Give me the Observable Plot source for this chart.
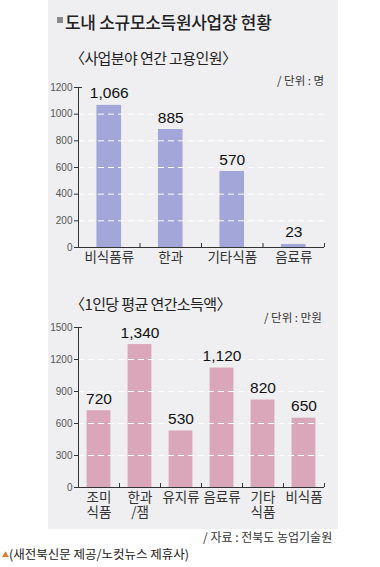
<!DOCTYPE html>
<html>
<head>
<meta charset="utf-8">
<script src="https://cdn.jsdelivr.net/npm/d3@7"></script>
<script src="https://cdn.jsdelivr.net/npm/@observablehq/plot@0.6"></script>
<style>
  body { margin: 0; background: #fff; font-family: "Noto Sans CJK KR", "Noto Sans", sans-serif; }
  #wrap { position: relative; width: 380px; height: 567px; overflow: hidden; }
  #panel { position: absolute; left: 48px; top: 0; width: 290px; height: 529px; background: #efeff1; }
  .t { position: absolute; white-space: nowrap; color: #222; }
  .chart { position: absolute; left: 0; }
</style>
</head>
<body>
<div id="wrap">
  <div id="panel"></div>
  <div class="t" style="left:57px;top:17px;width:6px;height:6px;background:#8a8a8a"></div>
  <div class="t" style="left:65px;top:12px;font-size:17px;line-height:19px;font-weight:500;letter-spacing:-0.3px">도내 소규모소득원사업장 현황</div>
  <div class="t" style="left:70px;top:49px;font-size:15px;line-height:18px;letter-spacing:-0.6px">〈사업분야 연간 고용인원〉</div>
  <div class="t" style="left:277px;top:73px;font-size:11.5px;line-height:14px;color:#333">/ 단위 : 명</div>
  <div id="c1" class="chart" style="top:70px"></div>
  <div class="t" style="left:70px;top:295px;font-size:15px;line-height:18px;letter-spacing:-0.6px">〈1인당 평균 연간소득액〉</div>
  <div class="t" style="left:264px;top:310px;font-size:11.5px;line-height:14px;color:#333">/ 단위 : 만원</div>
  <div id="c2" class="chart" style="top:310px"></div>
  <div class="t" style="left:203px;top:530px;font-size:12px;line-height:14px;color:#333">/ 자료 : 전북도 농업기술원</div>
  <div class="t" style="left:2px;top:546px;font-size:12.5px;line-height:15px;color:#222"><span style="color:#e07a30;font-size:7px;vertical-align:2px">▲</span>(새전북신문 제공/노컷뉴스 제휴사)</div>
</div>
<script>
// Chart 1: 사업분야 연간 고용인원 (단위: 명)
const empCategories = ["비식품류", "한과", "기타식품", "음료류"];
const empValues = [1066, 885, 570, 23];
const empTicks = [0, 200, 400, 600, 800, 1000, 1200];

// Chart 2: 1인당 평균 연간소득액 (단위: 만원)
const incCategories = ["조미\n식품", "한과\n/잼", "유지류", "음료류", "기타\n식품", "비식품"];
const incValues = [720, 1340, 530, 1120, 820, 650];
const incTicks = [0, 300, 600, 900, 1200, 1500];

function barChart(cats, vals, ticks, color, padInner, height, marginBottom) {
  const data = cats.map((c, i) => ({cat: c, value: vals[i]}));
  const width = 380, marginLeft = 78, marginRight = 56;
  const step = (width - marginLeft - marginRight) / cats.length;
  const yMax = ticks[ticks.length - 1];
  const fmt = d3.format(",");
  const line = (c, k) => (c.split("\n")[k] || "");
  const hasSecond = cats.some(c => c.includes("\n"));
  const marks = [
    Plot.barY(data, {x: "cat", y: "value", fill: color}),
    Plot.gridY(ticks.slice(1, -1), {stroke: "#fff", strokeOpacity: 1, strokeWidth: 1, strokeDasharray: "6,4"}),
    Plot.ruleY([0], {stroke: "#333", strokeWidth: 1}),
    Plot.ruleX([cats[0]], {y1: 0, y2: yMax, dx: -step / 2, stroke: "#333", strokeWidth: 1}),
    Plot.ruleY([yMax], {stroke: "#333", strokeWidth: 1, insetRight: width - marginLeft - marginRight - 4}),
    Plot.ruleX(cats.slice(1), {y1: 0, y2: yMax * 4 / 160, dx: -step / 2, stroke: "#333", strokeWidth: 1}),
    Plot.ruleX([cats[cats.length - 1]], {y1: 0, y2: yMax * 4 / 160, dx: step / 2, stroke: "#333", strokeWidth: 1}),
    Plot.axisY({ticks, tickSize: 4, tickPadding: 2, fontSize: 10, fill: "#555", stroke: "#333",
      fontFamily: "'Liberation Sans Narrow', 'Liberation Sans', sans-serif", label: null, tickFormat: d => String(d)}),
    Plot.axisX({tickSize: 0, tickPadding: 5, fontSize: 13.5, fill: "#333", label: null, tickFormat: c => line(c, 0)}),
    Plot.text(data, {x: "cat", y: "value", text: d => fmt(d.value), dy: -7, lineAnchor: "bottom",
      fontSize: 15.5, fill: "#111", fontFamily: "'Liberation Sans', Arial, sans-serif", letterSpacing: "-0.5px"})
  ];
  if (hasSecond) {
    marks.push(Plot.axisX({tickSize: 0, tickPadding: 20, fontSize: 13.5, fill: "#333", label: null, tickFormat: c => line(c, 1)}));
  }
  return Plot.plot({
    width, height,
    marginLeft, marginRight, marginTop: 17, marginBottom,
    style: {background: "transparent", fontFamily: "'Noto Sans CJK KR', sans-serif", color: "#333", overflow: "visible"},
    x: {domain: cats, paddingInner: padInner, paddingOuter: padInner / 2, round: false, label: null},
    y: {domain: [0, yMax], label: null},
    marks
  });
}

document.getElementById("c1").appendChild(
  barChart(empCategories, empValues, empTicks, "#a2a6d8", 0.6, 207, 30));
document.getElementById("c2").appendChild(
  barChart(incCategories, incValues, incTicks, "#d9a7b9", 0.42, 219, 42));
</script>
</body>
</html>
